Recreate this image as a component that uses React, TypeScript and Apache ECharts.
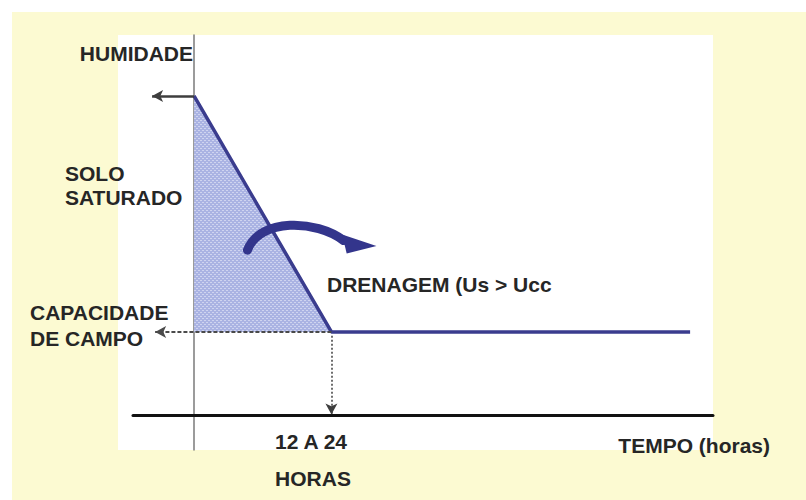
import React, { useEffect, useRef } from "react";
import * as echarts from "echarts";

// Axis ranges (time in hours-like units, humidity in relative units)
const xRange = [-8, 68];
const yRange = [-9, 100];

// Humidity curve: saturated soil -> drainage -> field capacity
const curveTime = [0, 18, 65];
const curveHumidity = [84, 22, 22];

// Shaded drainage region (triangle under the falling curve)
const fillPoly = [
  [0, 84],
  [18, 22],
  [0, 22],
];

// Curved "drainage" arrow (bezier control points and head), in data units
const bendPath = [
  [7.0, 43.5],
  [8.6, 52],
  [16.0, 51.5],
  [19.6, 46.0],
];
const bendHead = [
  [19.4, 47.6],
  [23.9, 44.6],
  [20.0, 42.6],
];

// Annotation lines
const topArrow = [
  [0, 84],
  [-5.5, 84],
];
const fcArrow = [
  [18, 22],
  [-5.1, 22],
];
const dropArrow = [
  [18, 21],
  [18, 0.3],
];

const labels = [
  { text: "HUMIDADE", x: 193, y: 53, align: "right" },
  { text: "SOLO", x: 65, y: 173, align: "left" },
  { text: "SATURADO", x: 65, y: 197, align: "left" },
  { text: "CAPACIDADE", x: 30, y: 312, align: "left" },
  { text: "DE CAMPO", x: 30, y: 338, align: "left" },
  { text: "DRENAGEM (Us > Ucc", x: 327, y: 284, align: "left" },
  { text: "12 A 24", x: 311, y: 441, align: "center" },
  { text: "HORAS", x: 313, y: 478, align: "center" },
  { text: "TEMPO (horas)", x: 770, y: 445, align: "right" },
];

const FONT = '"Liberation Sans", Arial, sans-serif';
const LINE = "#3a3c8e";

export default function App() {
  const ref = useRef<HTMLDivElement>(null);

  useEffect(() => {
    if (!ref.current) return;
    const chart = echarts.init(ref.current, undefined, { renderer: "svg" });

    // dotted texture for the shaded region
    const cv = document.createElement("canvas");
    cv.width = 4;
    cv.height = 4;
    const cx = cv.getContext("2d");
    let fill: any = "#b1b9e6";
    if (cx) {
      cx.fillStyle = "#aab3e3";
      cx.fillRect(0, 0, 4, 4);
      cx.fillStyle = "#cfd4f0";
      cx.fillRect(0, 0, 2, 1);
      cx.fillRect(2, 2, 2, 1);
      fill = { image: cv, repeat: "repeat" };
    }

    const curveData = curveTime.map((t, i) => [t, curveHumidity[i]]);

    chart.setOption({
      animation: false,
      backgroundColor: "#ffffff",
      grid: { left: 133, right: 93, top: 35, bottom: 50 },
      xAxis: {
        type: "value",
        min: xRange[0],
        max: xRange[1],
        axisLine: { show: true, onZero: true, lineStyle: { color: "#111111", width: 3 } },
        axisTick: { show: false },
        axisLabel: { show: false },
        splitLine: { show: false },
      },
      yAxis: {
        type: "value",
        min: yRange[0],
        max: yRange[1],
        axisLine: { show: true, onZero: true, lineStyle: { color: "#7a7a7a", width: 1.5 } },
        axisTick: { show: false },
        axisLabel: { show: false },
        splitLine: { show: false },
      },
      graphic: [
        {
          type: "rect",
          z: -10,
          silent: true,
          shape: { x: 12, y: 12, width: 806, height: 500 },
          style: { fill: "#fcfad2" },
        },
        {
          type: "rect",
          z: -9,
          silent: true,
          shape: { x: 118, y: 35, width: 595, height: 415 },
          style: { fill: "#ffffff" },
        },
        ...labels.map((l) => ({
          type: "text",
          z: 100,
          x: l.x,
          y: l.y,
          style: {
            text: l.text,
            fill: "#262626",
            font: `bold 21px ${FONT}`,
            align: l.align,
            verticalAlign: "middle",
          },
        })),
      ],
      series: [
        {
          type: "custom",
          z: 1,
          silent: true,
          data: [[0, 0]],
          renderItem: (_p: any, api: any) => ({
            type: "polygon",
            shape: { points: fillPoly.map((d) => api.coord(d)) },
            style: { fill },
          }),
        },
        {
          type: "line",
          z: 3,
          data: curveData,
          showSymbol: false,
          symbol: "none",
          lineStyle: { color: LINE, width: 3.5 },
          markLine: {
            silent: true,
            symbol: ["none", "arrow"],
            symbolSize: [9, 11],
            label: { show: false },
            emphasis: { disabled: true },
            data: [
              [
                { coord: topArrow[0], lineStyle: { color: "#3e3e3e", width: 2.5, type: "solid" } },
                { coord: topArrow[1] },
              ],
              [
                { coord: fcArrow[0], lineStyle: { color: "#4a4a4a", width: 2, type: [4, 2] } },
                { coord: fcArrow[1] },
              ],
              [
                { coord: dropArrow[0], lineStyle: { color: "#3e3e3e", width: 1.5, type: [2, 2] } },
                { coord: dropArrow[1] },
              ],
            ],
          },
        },
        {
          type: "custom",
          z: 4,
          silent: true,
          data: [[0, 0]],
          renderItem: (_p: any, api: any) => {
            const p = bendPath.map((d) => api.coord(d));
            const h = bendHead.map((d) => api.coord(d));
            return {
              type: "group",
              children: [
                {
                  type: "bezierCurve",
                  shape: {
                    x1: p[0][0],
                    y1: p[0][1],
                    cpx1: p[1][0],
                    cpy1: p[1][1],
                    cpx2: p[2][0],
                    cpy2: p[2][1],
                    x2: p[3][0],
                    y2: p[3][1],
                  },
                  style: { stroke: "#33358c", lineWidth: 9, fill: null, lineCap: "round" },
                },
                { type: "polygon", shape: { points: h }, style: { fill: "#33358c" } },
              ],
            };
          },
        },
      ],
    });

    return () => chart.dispose();
  }, []);

  return (
    <div
      ref={ref}
      style={{ position: "fixed", left: 0, top: 0, width: 806, height: 500 }}
    />
  );
}
